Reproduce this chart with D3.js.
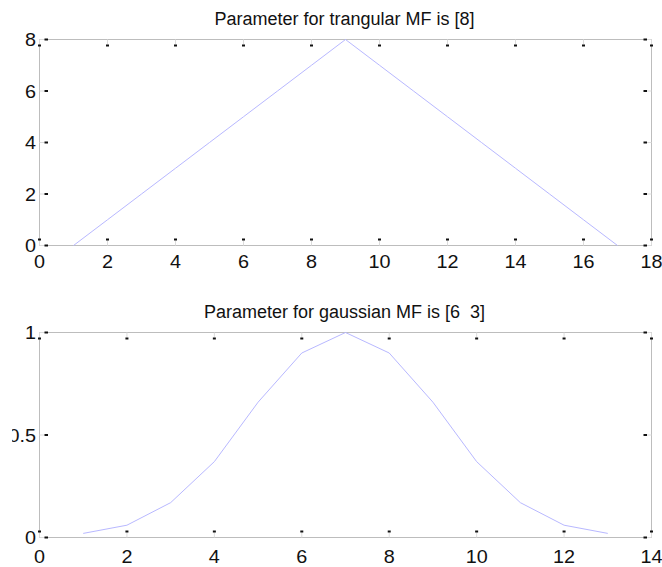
<!DOCTYPE html>
<html>
<head>
<meta charset="utf-8">
<script src="https://cdn.jsdelivr.net/npm/d3@7"></script>
<style>
  html, body { margin: 0; padding: 0; background: #fff; }
  svg { display: block; }
  text { font-family: "Liberation Sans", Arial, sans-serif; fill: #111; white-space: pre; }
</style>
</head>
<body>
<svg id="chart" width="662" height="567"></svg>
<script>
// ---- data ----
const triTitle = "Parameter for trangular MF is [8]";
const triX = [1, 2, 3, 4, 5, 6, 7, 8, 9, 10, 11, 12, 13, 14, 15, 16, 17];
const triY = [0, 1, 2, 3, 4, 5, 6, 7, 8, 7, 6, 5, 4, 3, 2, 1, 0];
const triXTicks = [0, 2, 4, 6, 8, 10, 12, 14, 16, 18];
const triYTicks = [0, 2, 4, 6, 8];

const gaussTitle = "Parameter for gaussian MF is [6  3]";
const gaussX = [1, 2, 3, 4, 5, 6, 7, 8, 9, 10, 11, 12, 13];
const gaussY = [0.02, 0.06, 0.17, 0.37, 0.66, 0.9, 1, 0.9, 0.66, 0.37, 0.17, 0.06, 0.02];
const gaussXTicks = [0, 2, 4, 6, 8, 10, 12, 14];
const gaussYTicks = [0, 0.5, 1];
const gaussYLabels = ["0", "0.5", "1"];

const svg = d3.select("#chart");
const LABEL_STRETCH = 1.1;

function panel(cfg) {
  const x = d3.scaleLinear().domain(cfg.xDomain).range([cfg.left, cfg.right]);
  const y = d3.scaleLinear().domain(cfg.yDomain).range([cfg.bottom, cfg.top]);
  const g = svg.append("g");

  // frame
  g.append("rect")
    .attr("x", cfg.left).attr("y", cfg.top)
    .attr("width", cfg.right - cfg.left).attr("height", cfg.bottom - cfg.top)
    .attr("fill", "none").attr("stroke", "#bdbdbd").attr("stroke-width", 1);

  // x ticks (inside, top and bottom)
  cfg.xTicks.forEach(t => {
    const px = x(t);
    [[cfg.top, 1], [cfg.bottom, -1]].forEach(([edge, dir]) => {
      g.append("line").attr("x1", px).attr("x2", px)
        .attr("y1", edge).attr("y2", edge + dir * 5)
        .attr("stroke", "#dcdcdc").attr("stroke-width", 1);
      g.append("rect").attr("x", px - 1.5).attr("width", 3)
        .attr("y", dir > 0 ? edge + 5 : edge - 7).attr("height", 2)
        .attr("fill", "#111");
    });
  });
  // y ticks (inside, left and right)
  cfg.yTicks.forEach(t => {
    const py = y(t);
    [[cfg.left, 1], [cfg.right, -1]].forEach(([edge, dir]) => {
      g.append("line").attr("y1", py).attr("y2", py)
        .attr("x1", edge).attr("x2", edge + dir * 5)
        .attr("stroke", "#dcdcdc").attr("stroke-width", 1);
      g.append("rect").attr("y", py - 1).attr("height", 2)
        .attr("x", dir > 0 ? edge + 5 : edge - 8).attr("width", 3.5)
        .attr("fill", "#111");
    });
  });

  // x tick labels
  g.selectAll(".xl").data(cfg.xTicks).enter().append("text")
    .attr("transform", d => `translate(${x(d)},${cfg.xLabelY}) scale(${LABEL_STRETCH},1)`)
    .attr("text-anchor", "middle").attr("font-size", 18)
    .text(d => d);

  // y tick labels
  const ylab = g.append("g");
  if (cfg.yClip !== undefined) {
    const id = "clip" + Math.round(cfg.top);
    svg.append("clipPath").attr("id", id).append("rect")
      .attr("x", cfg.yClip).attr("y", 0).attr("width", 662).attr("height", 567);
    ylab.attr("clip-path", `url(#${id})`);
  }
  ylab.selectAll("text").data(cfg.yTicks).enter().append("text")
    .attr("transform", d => `translate(${cfg.left - 3.5},${y(d) + 6.5}) scale(${LABEL_STRETCH},1)`)
    .attr("text-anchor", "end").attr("font-size", 18)
    .text((d, i) => cfg.yLabels ? cfg.yLabels[i] : d);

  // title
  g.append("text")
    .attr("x", (cfg.left + cfg.right) / 2 - 1).attr("y", cfg.titleY)
    .attr("text-anchor", "middle").attr("font-size", 18)
    .attr("xml:space", "preserve")
    .text(cfg.title);

  // line
  const line = d3.line().x(d => x(d[0])).y(d => y(d[1]));
  g.append("path")
    .datum(cfg.xs.map((v, i) => [v, cfg.ys[i]]))
    .attr("d", line)
    .attr("fill", "none").attr("stroke", "#b8b8ff").attr("stroke-width", 1);
}

panel({
  left: 39.5, right: 651.5, top: 39.5, bottom: 245.5,
  xDomain: [0, 18], yDomain: [0, 8],
  xTicks: triXTicks, yTicks: triYTicks,
  xs: triX, ys: triY, title: triTitle, titleY: 25, xLabelY: 268
});

panel({
  left: 39.5, right: 651.5, top: 332.5, bottom: 537.5,
  xDomain: [0, 14], yDomain: [0, 1],
  xTicks: gaussXTicks, yTicks: gaussYTicks, yLabels: gaussYLabels,
  xs: gaussX, ys: gaussY, title: gaussTitle, titleY: 317.5, xLabelY: 563,
  yClip: 12
});
</script>
</body>
</html>
